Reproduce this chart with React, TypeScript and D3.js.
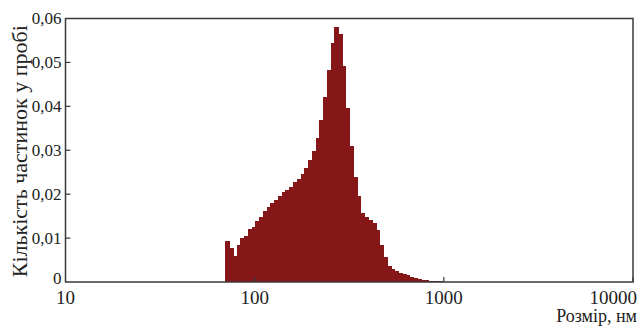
import React from "react";
import * as d3 from "d3";

const binEdges = [
  70.0, 73.3, 76.7, 80.3, 84.1, 88.0, 92.1, 96.4, 100.9, 105.7,
  110.6, 115.8, 121.2, 126.9, 132.8, 139.0, 145.5, 152.4, 159.5, 167.0,
  174.8, 183.0, 191.5, 200.5, 209.9, 219.7, 230.0, 240.8, 252.0, 263.8,
  276.2, 289.1, 302.6, 316.8, 331.6, 347.2, 363.4, 380.4, 398.2, 416.9,
  436.4, 456.8, 478.2, 500.6, 524.1, 548.6, 574.3, 601.2, 629.3, 658.8,
  689.6, 721.9, 755.7, 791.1, 828.1, 866.9, 907.5, 950.0, 994.4,
];

const counts = [
  0.0094, 0.0078, 0.006, 0.0085, 0.01, 0.0105, 0.0121, 0.0126, 0.0138, 0.0149,
  0.0161, 0.0171, 0.018, 0.0187, 0.0195, 0.0204, 0.021, 0.0217, 0.0227, 0.0234,
  0.0246, 0.0259, 0.0277, 0.0299, 0.0328, 0.0368, 0.0421, 0.0482, 0.0544, 0.0581,
  0.0565, 0.0491, 0.0396, 0.0309, 0.024, 0.0195, 0.0157, 0.0148, 0.0142, 0.0134,
  0.0119, 0.0085, 0.0058, 0.0036, 0.003, 0.0025, 0.0021, 0.0018, 0.0015, 0.0012,
  0.0009, 0.0007, 0.0005, 0.0004, 0.0003, 0.0003, 0.0002, 0.0002,
];

const xTicks = [10, 100, 1000, 10000];
const xTickLabels = ["10", "100", "1000", "10000"];
const yTicks = [0, 0.01, 0.02, 0.03, 0.04, 0.05, 0.06];
const yTickLabels = ["0", "0,01", "0,02", "0,03", "0,04", "0,05", "0,06"];
const yTitle = "Кількість частинок у пробі";
const xTitle = "Розмір, нм";

export default function App() {
  const W = 638;
  const H = 326;
  const left = 65.5;
  const right = 633;
  const top = 18.5;
  const bottom = 282;
  const x = d3.scaleLog().domain([10, 10000]).range([left, right]);
  const y = d3.scaleLinear().domain([0, 0.06]).range([bottom, top]);
  const font = "Liberation Serif";
  const barColor = "#861718";
  const axisColor = "#3a3a3a";

  const bars = counts.map((v, i) => {
    const x0 = x(binEdges[i]);
    const x1 = x(binEdges[i + 1]);
    return (
      <rect
        key={i}
        x={x0}
        y={y(v)}
        width={x1 - x0 + 0.8}
        height={bottom - y(v)}
        fill={barColor}
        shapeRendering="crispEdges"
      />
    );
  });

  return (
    <svg
      width={W}
      height={H}
      style={{ position: "absolute", left: 0, top: 0, background: "#fff" }}
    >
      <rect x={0} y={0} width={W} height={H} fill="#fff" />
      {bars}
      <rect
        x={left}
        y={top}
        width={right - left}
        height={bottom - top}
        fill="none"
        stroke={axisColor}
        strokeWidth={1.5}
      />
      {yTicks.map((t, i) => (
        <g key={"y" + i}>
          {i > 0 && i < yTicks.length - 1 && (
            <line x1={left} x2={left + 5} y1={y(t)} y2={y(t)} stroke={axisColor} strokeWidth={1.2} />
          )}
          <text
            x={left - 4}
            y={i === 0 ? y(t) - 4 : y(t)}
            dy="0.35em"
            textAnchor="end"
            fontFamily={font}
            fontSize={17}
            fill="#222"
          >
            {yTickLabels[i]}
          </text>
        </g>
      ))}
      {xTicks.map((t, i) => (
        <g key={"x" + i}>
          {i > 0 && (
            <line x1={x(t)} x2={x(t)} y1={bottom} y2={bottom - 5} stroke={axisColor} strokeWidth={1.2} />
          )}
          <text
            x={i === xTicks.length - 1 ? W - 1 : x(t)}
            y={304}
            textAnchor={i === xTicks.length - 1 ? "end" : "middle"}
            fontFamily={font}
            fontSize={19}
            fill="#222"
          >
            {xTickLabels[i]}
          </text>
        </g>
      ))}
      <text
        x={W - 1}
        y={322}
        textAnchor="end"
        fontFamily={font}
        fontSize={18}
        fill="#222"
      >
        {xTitle}
      </text>
      <text
        transform={`translate(27, ${(top + bottom) / 2 + 1}) rotate(-90)`}
        textAnchor="middle"
        fontFamily={font}
        fontSize={22}
        fill="#222"
      >
        {yTitle}
      </text>
    </svg>
  );
}
